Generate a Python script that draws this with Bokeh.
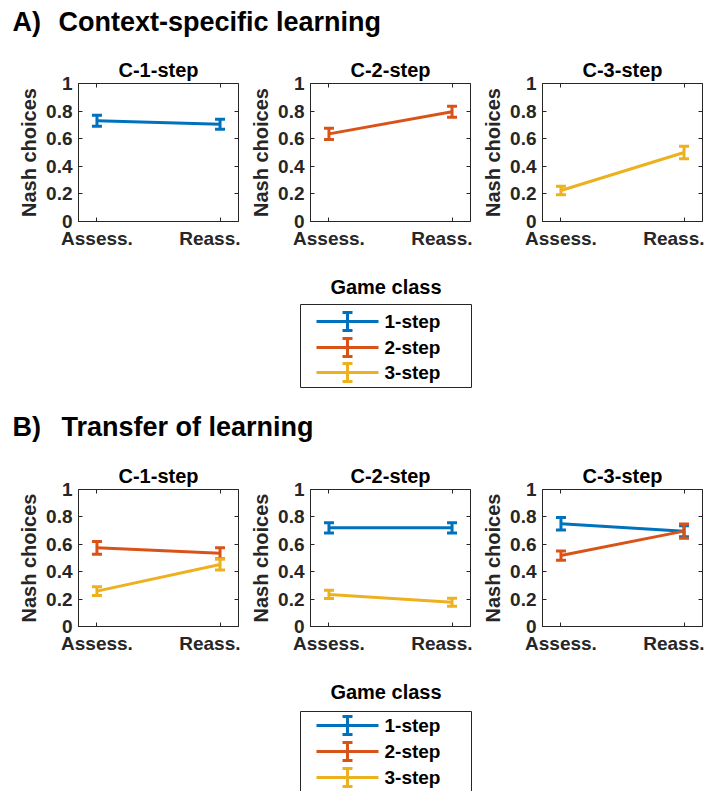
from bokeh.plotting import figure
from bokeh.layouts import column, row
from bokeh.models import (Range1d, FixedTicker, LinearAxis, Whisker, TeeHead,
                          ColumnDataSource, CustomJSTickFormatter)
from bokeh.core.properties import value
from bokeh.embed import file_html
from bokeh.resources import INLINE

# ---------------- data ----------------
conditions = ["Assess.", "Reass."]
condition_x = [1, 2]
y_ticks = [0, 0.2, 0.4, 0.6, 0.8, 1.0]
game_classes = ["1-step", "2-step", "3-step"]
class_colors = ["#0072BD", "#D95319", "#EDB120"]
panel_titles = ["C-1-step", "C-2-step", "C-3-step"]
section_letters = ["A)", "B)"]
section_titles = ["Context-specific learning", "Transfer of learning"]
legend_title = "Game class"
y_label = "Nash choices"

# A) Context-specific learning  (means, sem)
a_c1_1step = [0.730, 0.705]
a_c1_1step_err = [0.040, 0.036]
a_c2_2step = [0.635, 0.795]
a_c2_2step_err = [0.041, 0.040]
a_c3_3step = [0.225, 0.500]
a_c3_3step_err = [0.031, 0.046]

# B) Transfer of learning
b_c1_2step = [0.574, 0.535]
b_c1_2step_err = [0.047, 0.040]
b_c1_3step = [0.258, 0.453]
b_c1_3step_err = [0.032, 0.040]
b_c2_1step = [0.720, 0.720]
b_c2_1step_err = [0.037, 0.037]
b_c2_3step = [0.234, 0.177]
b_c2_3step_err = [0.030, 0.030]
b_c3_1step = [0.750, 0.696]
b_c3_1step_err = [0.046, 0.040]
b_c3_2step = [0.518, 0.696]
b_c3_2step_err = [0.034, 0.052]

section_a = [
    [(0, a_c1_1step, a_c1_1step_err)],
    [(1, a_c2_2step, a_c2_2step_err)],
    [(2, a_c3_3step, a_c3_3step_err)],
]
section_b = [
    [(1, b_c1_2step, b_c1_2step_err), (2, b_c1_3step, b_c1_3step_err)],
    [(0, b_c2_1step, b_c2_1step_err), (2, b_c2_3step, b_c2_3step_err)],
    [(0, b_c3_1step, b_c3_1step_err), (1, b_c3_2step, b_c3_2step_err)],
]

# ---------------- style ----------------
FONT = "Liberation Sans"
AX = "#262626"
TOTAL_W = 704
OFF = 8  # offset of the drawing from the page's top-left corner


def style_axis(ax, size="19px"):
    ax.axis_line_color = AX
    ax.axis_line_width = 1
    ax.major_tick_line_color = AX
    ax.major_tick_in = 4
    ax.major_tick_out = 0
    ax.minor_tick_line_color = None
    ax.major_label_text_font = FONT
    ax.major_label_text_font_style = "bold"
    ax.major_label_text_font_size = size
    ax.major_label_text_color = AX


def make_panel(title, series, top_border, frame_h, left_border):
    p = figure(frame_width=160, frame_height=frame_h,
               x_range=Range1d(0.85, 2.15), y_range=Range1d(0, 1),
               output_backend="svg", toolbar_location=None,
               min_border_left=left_border, min_border_right=2,
               min_border_top=top_border, min_border_bottom=35,
               title=title)
    p.title.text_font = FONT
    p.title.text_font_style = "bold"
    p.title.text_font_size = "20px"
    p.title.text_color = "black"
    p.title.align = "center"
    p.title.standoff = 5
    p.xgrid.visible = False
    p.ygrid.visible = False
    p.outline_line_color = AX
    p.outline_line_alpha = 1
    p.outline_line_width = 1
    p.background_fill_color = "white"
    p.border_fill_color = "white"

    p.xaxis.ticker = FixedTicker(ticks=condition_x)
    p.xaxis.major_label_overrides = {cx: c for cx, c in zip(condition_x, conditions)}
    p.xaxis.major_label_standoff = 6
    style_axis(p.xaxis[0])
    p.yaxis.ticker = FixedTicker(ticks=y_ticks)
    p.yaxis.formatter = CustomJSTickFormatter(code="return tick.toFixed(1).replace(/\\.0$/, '');")
    p.yaxis.major_label_standoff = 6
    p.yaxis.axis_label = y_label
    p.yaxis.axis_label_text_font = FONT
    p.yaxis.axis_label_text_font_style = "bold"
    p.yaxis.axis_label_text_font_size = "20px"
    p.yaxis.axis_label_text_color = AX
    p.yaxis.axis_label_standoff = 3
    style_axis(p.yaxis[0])

    # box ticks on top and right (no labels)
    blank = CustomJSTickFormatter(code="return '';")
    top = LinearAxis(ticker=FixedTicker(ticks=condition_x), formatter=blank)
    style_axis(top, "1px")
    top.major_label_standoff = 0
    top.axis_line_color = None
    p.add_layout(top, "above")
    right = LinearAxis(ticker=FixedTicker(ticks=y_ticks), formatter=blank)
    style_axis(right, "1px")
    right.major_label_standoff = 0
    right.axis_line_color = None
    p.add_layout(right, "right")

    for idx, means, errs in series:
        color = class_colors[idx]
        src = ColumnDataSource(dict(
            x=condition_x, y=means,
            upper=[m + e for m, e in zip(means, errs)],
            lower=[m - e for m, e in zip(means, errs)]))
        w = Whisker(source=src, base="x", upper="upper", lower="lower",
                    dimension="height", line_color=color, line_width=3,
                    upper_head=TeeHead(size=10, line_color=color, line_width=3),
                    lower_head=TeeHead(size=10, line_color=color, line_width=3))
        p.add_layout(w)
        p.line(x="x", y="y", source=src, line_width=3, line_color=color)
    return p


def blank_fig(height):
    p = figure(width=TOTAL_W, height=height, x_range=Range1d(0, TOTAL_W),
               y_range=Range1d(height, 0), output_backend="svg",
               toolbar_location=None, min_border=0)
    p.axis.visible = False
    p.grid.visible = False
    p.outline_line_color = None
    return p


def make_header(letter, text, height, text_y, text_x):
    p = blank_fig(height)
    p.text(x=[12], y=[text_y], text=[letter], text_font=value(FONT),
           text_font_style="bold", text_font_size="27px", text_color="black",
           text_baseline="middle", text_align="left")
    p.text(x=[text_x], y=[text_y], text=[text], text_font=value(FONT),
           text_font_style="bold", text_font_size="27px", text_color="black",
           text_baseline="middle", text_align="left")
    return p


def make_legend(height, title_y, box_top, box_bottom, row_y):
    p = blank_fig(height)
    bx0, bx1 = 300, 471
    p.text(x=[(bx0 + bx1) / 2], y=[title_y], text=[legend_title], text_font=value(FONT),
           text_font_style="bold", text_font_size="20px", text_color="black",
           text_baseline="middle", text_align="center")
    p.quad(left=[bx0], right=[bx1], top=[box_top], bottom=[box_bottom],
           fill_color="white", line_color=AX, line_width=1)
    for i, name in enumerate(game_classes):
        y = row_y[i]
        c = class_colors[i]
        p.segment(x0=[316], y0=[y], x1=[378], y1=[y], line_color=c, line_width=3)
        p.segment(x0=[347], y0=[y - 9], x1=[347], y1=[y + 9], line_color=c, line_width=3)
        p.segment(x0=[342, 342], y0=[y - 9, y + 9], x1=[352, 352], y1=[y - 9, y + 9],
                  line_color=c, line_width=3)
        p.text(x=[384], y=[y], text=[name], text_font=value(FONT),
               text_font_style="bold", text_font_size="19px", text_color="black",
               text_baseline="middle", text_align="left")
    return p


head_a = make_header(section_letters[0], section_titles[0], 50, 21, 58)
row_a = row(*[make_panel(t, s, 33, 138, 70 + (OFF if i == 0 else 0))
              for i, (t, s) in enumerate(zip(panel_titles, section_a))])
leg_a = make_legend(154, 30, 48, 131, [65, 91, 116])
head_b = make_header(section_letters[1], section_titles[1], 45, 16, 61)
row_b = row(*[make_panel(t, s, 34, 137, 70 + (OFF if i == 0 else 0))
              for i, (t, s) in enumerate(zip(panel_titles, section_b))])
leg_b = make_legend(130, 30, 50, 133, [64, 90, 116])

layout = column(head_a, row_a, leg_a, head_b, row_b, leg_b)

open("out.html", "w").write(file_html(layout, INLINE))
